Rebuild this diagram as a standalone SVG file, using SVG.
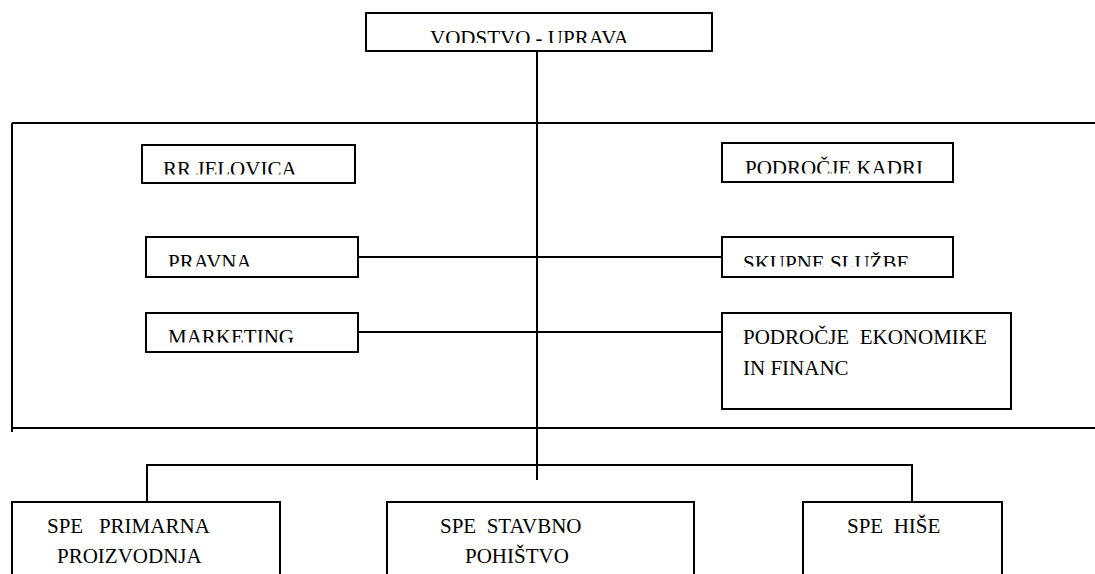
<svg xmlns="http://www.w3.org/2000/svg" width="1095" height="574" viewBox="0 0 1095 574">
<style>
.box{fill:#fff;stroke:#000;stroke-width:2}
.ln{fill:none;stroke:#000;stroke-width:2}
.t{font-family:"Liberation Serif","Times New Roman",serif;font-size:21px;fill:#000;white-space:pre}
</style>
<defs>
<clipPath id="c0"><rect x="367" y="14" width="344" height="29"/></clipPath>
<clipPath id="c1"><rect x="142" y="146" width="212" height="28.5"/></clipPath>
<clipPath id="c2"><rect x="723" y="144" width="229" height="29.5"/></clipPath>
<clipPath id="c3"><rect x="147" y="238" width="210" height="28.5"/></clipPath>
<clipPath id="c4"><rect x="723" y="238" width="229" height="28.5"/></clipPath>
<clipPath id="c5"><rect x="147" y="314" width="210" height="28.5"/></clipPath>
</defs>
<rect width="1095" height="574" fill="#fff"/>
<g id="frame">
<path class="ln" d="M12 123H1095M12 123V432M12 428H1095"/>
</g>
<g id="connectors">
<path class="ln" d="M537 51V480"/>
<path class="ln" d="M357 257H722"/>
<path class="ln" d="M357 332H722"/>
<path class="ln" d="M147 502V465H912V502"/>
</g>
<g id="vodstvo">
<rect class="box" x="366" y="13" width="346" height="38"/>
<text class="t" x="430" y="45" clip-path="url(#c0)">VODSTVO - UPRAVA</text>
</g>
<g id="rr-jelovica">
<rect class="box" x="142" y="145" width="213" height="38"/>
<text class="t" x="163" y="176" clip-path="url(#c1)">RR JELOVICA</text>
</g>
<g id="kadri">
<rect class="box" x="722" y="143" width="231" height="39"/>
<text class="t" x="745" y="174.5" clip-path="url(#c2)">PODROČJE KADRI</text>
</g>
<g id="pravna">
<rect class="box" x="146" y="237" width="212" height="40"/>
<text class="t" x="168" y="269" clip-path="url(#c3)">PRAVNA</text>
</g>
<g id="skupne">
<rect class="box" x="722" y="237" width="231" height="40"/>
<text class="t" x="743" y="270" clip-path="url(#c4)">SKUPNE SLUŽBE</text>
</g>
<g id="marketing">
<rect class="box" x="146" y="313" width="212" height="39"/>
<text class="t" x="168" y="344" clip-path="url(#c5)">MARKETING</text>
</g>
<g id="ekonomika">
<rect class="box" x="722" y="313" width="289" height="96"/>
<text class="t" x="743" y="344">PODROČJE  EKONOMIKE</text>
<text class="t" x="743" y="375">IN FINANC</text>
</g>
<g id="spe-primarna">
<path class="box" d="M12 580V502H280V580"/>
<text class="t" x="47" y="533">SPE   PRIMARNA</text>
<text class="t" x="57" y="563">PROIZVODNJA</text>
</g>
<g id="spe-stavbno">
<path class="box" d="M387 580V502H694V580"/>
<text class="t" x="440" y="533">SPE  STAVBNO</text>
<text class="t" x="465" y="563">POHIŠTVO</text>
</g>
<g id="spe-hise">
<path class="box" d="M803 580V502H1002V580"/>
<text class="t" x="847" y="533">SPE  HIŠE</text>
</g>
</svg>
